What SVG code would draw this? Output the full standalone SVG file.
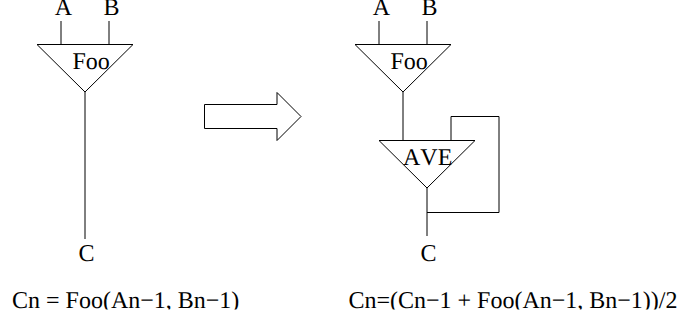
<svg xmlns="http://www.w3.org/2000/svg" width="678" height="321" viewBox="0 0 678 321">
<style>
text{font-family:"Liberation Serif","Times New Roman",serif;font-size:24px;fill:#000;text-rendering:geometricPrecision;font-kerning:none}
.s{fill:none;stroke:#000;stroke-width:1}
.c{fill:none;stroke:#000;stroke-width:1}
</style>
<rect width="678" height="321" fill="#fff"/>
<defs><clipPath id="pg"><rect width="678" height="309.500"/></clipPath></defs>
<g clip-path="url(#pg)">
<g id="connectors">
<path class="c" d="M61 21V44M109 21V44M85 92V239"/>
<path class="c" d="M379 21V44M427 21V44"/>
<path class="c" d="M403 92V140M451 140V116.500H499V212.500H427M427 188V236"/>
</g>
<g id="foo-left"><path class="s" d="M37 44.500H133L85 92Z"/><text x="72.500" y="69">Foo</text></g>
<g id="foo-right"><path class="s" d="M355 44.500H451L403 92Z"/><text x="390.500" y="69">Foo</text></g>
<g id="ave"><path class="s" d="M379 140.500H475L427 188Z"/><text x="403" y="165">AVE</text></g>
<g id="arrow"><path class="s" d="M204.500 104.500H277V92.500L301 116.500L277 140.500V128.500H204.500Z"/></g>
<g id="labels">
<text x="54.700" y="15">A</text><text x="103.500" y="15">B</text>
<text x="372.700" y="15">A</text><text x="421.500" y="15">B</text>
<text x="78.500" y="261">C</text><text x="420.500" y="261">C</text>
<text x="12" y="308">Cn = Foo(An−1, Bn−1)</text>
<text x="348.500" y="308">Cn=(Cn−1 + Foo(An−1, Bn−1))/2</text>
</g>
</g>
</svg>
